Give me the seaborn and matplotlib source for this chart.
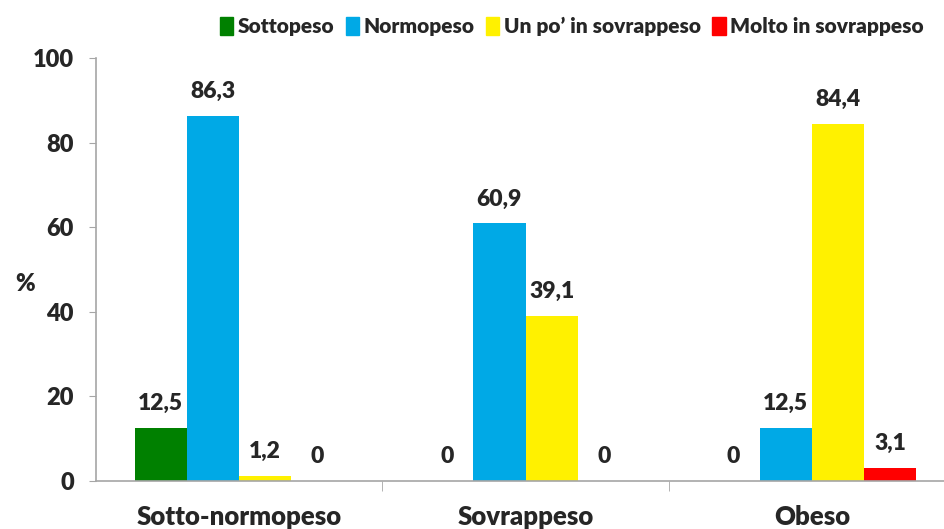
import numpy as np
import pandas as pd
import matplotlib
matplotlib.use('Agg')
import matplotlib.pyplot as plt
import seaborn as sns

# data
categorie = ['Sotto-normopeso', 'Sovrappeso', 'Obeso']
serie = ['Sottopeso', 'Normopeso', 'Un po\u2019 in sovrappeso', 'Molto in sovrappeso']
sottopeso = [12.5, 0, 0]
normopeso = [86.3, 60.9, 12.5]
un_po_sovrappeso = [1.2, 39.1, 84.4]
molto_sovrappeso = [0, 0, 3.1]
colori = ['#008000', '#00A9E6', '#FFF100', '#FF0000']

rows = []
for s, vals in zip(serie, [sottopeso, normopeso, un_po_sovrappeso, molto_sovrappeso]):
    for c, v in zip(categorie, vals):
        rows.append({'categoria': c, 'serie': s, 'valore': v})
df = pd.DataFrame(rows)

sns.set_style('white')
plt.rcParams['font.family'] = ['Lato', 'DejaVu Sans']
peso = 'heavy'

fig = plt.figure(figsize=(9.45, 5.29), dpi=100)
ax = fig.add_axes([0.1016, 0.0907, 0.909, 0.7996])

sns.barplot(data=df, x='categoria', y='valore', hue='serie', order=categorie,
            hue_order=serie, palette=colori, saturation=1, width=0.73,
            linewidth=0, ax=ax, legend=False)

for cont in ax.containers:
    labels = [f"{b.get_height():g}".replace('.', ',') for b in cont]
    ax.bar_label(cont, labels=labels, padding=10, fontsize=16.5, fontweight=peso)

ax.set_xlim(-0.5, 2.5)
ax.set_ylim(0, 100)
ax.set_yticks([0, 20, 40, 60, 80, 100])
ax.tick_params(axis='y', labelsize=17, length=5, color='#A6A6A6', direction='out', left=True, pad=11)
ax.set_xticks([0.5, 1.5, 2.5], minor=True)
ax.tick_params(axis='x', which='minor', length=7, color='#A6A6A6', bottom=True)
ax.tick_params(axis='x', which='major', length=0, labelsize=18.5, pad=17)
for lab in ax.get_xticklabels() + ax.get_yticklabels():
    lab.set_fontweight(peso)

for sp in ['top', 'right']:
    ax.spines[sp].set_visible(False)
for sp in ['left', 'bottom']:
    ax.spines[sp].set_color('#A6A6A6')
    ax.spines[sp].set_linewidth(1.2)

ax.set_xlabel('')
ax.set_ylabel('%', rotation=0, fontsize=17, fontweight=peso)
ax.yaxis.set_label_coords(-0.083, 0.44)

handles = [plt.Rectangle((0, 0), 1, 1, color=c) for c in colori]
fig.legend(handles, serie, loc='upper right', bbox_to_anchor=(0.997, 1.004), ncol=4,
           frameon=False, handlelength=0.65, handleheight=1.0, handletextpad=0.2,
           columnspacing=0.55, prop={'size': 15, 'weight': peso})

fig.savefig('out.png', dpi=100)
